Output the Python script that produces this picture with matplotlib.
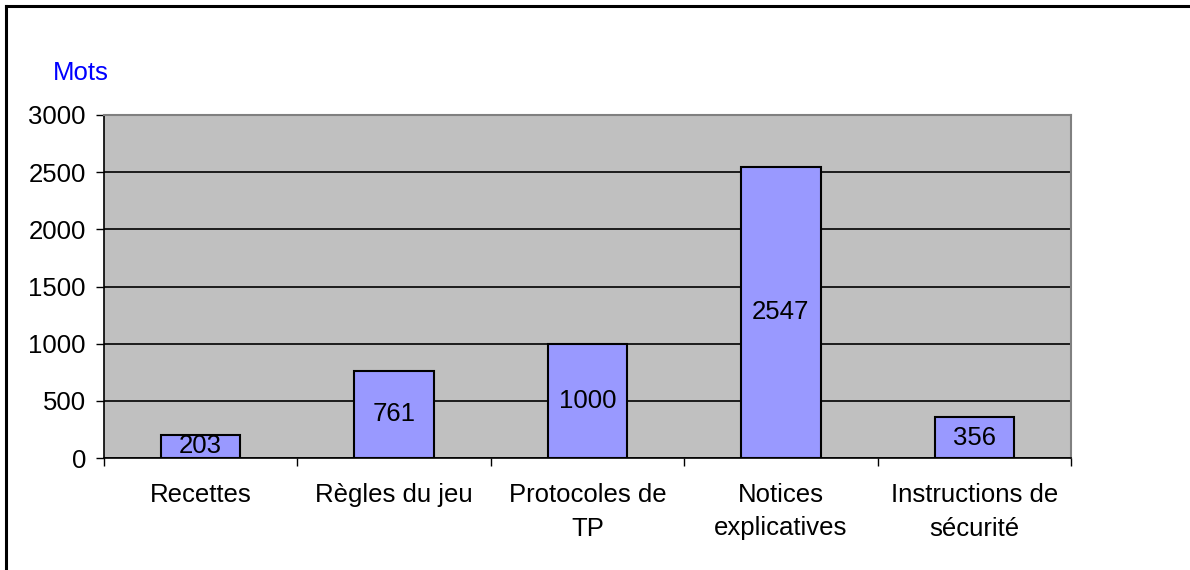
import matplotlib
matplotlib.use("Agg")
import matplotlib.pyplot as plt
from matplotlib.lines import Line2D

categories = ["Recettes", "Règles du jeu", "Protocoles de\nTP",
              "Notices\nexplicatives", "Instructions de\nsécurité"]
values = [203, 761, 1000, 2547, 356]
y_ticks = [0, 500, 1000, 1500, 2000, 2500, 3000]

plt.rcParams["font.family"] = ["Liberation Sans", "DejaVu Sans"]
FS = 18.5

fig = plt.figure(figsize=(11.9, 5.7), dpi=100)
ax = fig.add_axes([104 / 1190, 1 - 458 / 570, (1071 - 104) / 1190, (458 - 115) / 570])
ax.set_facecolor("#C0C0C0")

x = list(range(len(categories)))
bars = ax.bar(x, values, width=0.41, color="#9999FF", edgecolor="black",
              linewidth=1.5, zorder=3)
for b, v in zip(bars, values):
    ax.text(b.get_x() + b.get_width() / 2, v / 2, str(v), ha="center",
            va="center", fontsize=FS, color="black", zorder=4)

ax.set_xlim(-0.5, len(categories) - 0.5)
ax.set_ylim(0, 3000)
ax.set_yticks(y_ticks)
ax.set_yticklabels([str(t) for t in y_ticks], fontsize=FS)
ax.yaxis.grid(True, color="black", linewidth=1.2, zorder=1)
ax.set_axisbelow(True)

# category labels between boundary ticks
ax.set_xticks([i + 0.5 for i in range(-1, len(categories))])
ax.set_xticklabels([])
ax.set_xticks(x, minor=True)
ax.set_xticklabels(categories, minor=True, fontsize=FS, linespacing=1.5)
ax.tick_params(axis="x", which="major", length=6, width=1, direction="out", color="black")
ax.tick_params(axis="x", which="minor", length=0, pad=18)
ax.tick_params(axis="y", length=6, width=1, direction="out", pad=7)

for side in ("top", "right"):
    ax.spines[side].set_color("#808080")
    ax.spines[side].set_linewidth(1.5)
for side in ("left", "bottom"):
    ax.spines[side].set_color("black")
    ax.spines[side].set_linewidth(1.2)

fig.text(53 / 1190, 1 - 73 / 570, "Mots", color="#0000FF", fontsize=FS,
         ha="left", va="center")

# chart frame
fig.add_artist(Line2D([6 / 1190, 6 / 1190], [0, 1 - 6 / 570], transform=fig.transFigure,
                      color="black", linewidth=2.2))
fig.add_artist(Line2D([6 / 1190, 1], [1 - 6 / 570, 1 - 6 / 570], transform=fig.transFigure,
                      color="black", linewidth=2.2))

fig.savefig("out.png", dpi=100, facecolor="white")
